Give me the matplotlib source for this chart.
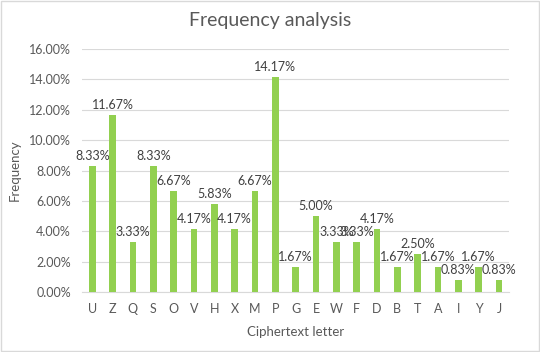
import matplotlib
matplotlib.use("Agg")
import matplotlib.pyplot as plt
from matplotlib.ticker import FuncFormatter

plt.rcParams['font.family'] = ['Lato', 'DejaVu Sans']

letters = ['U', 'Z', 'Q', 'S', 'O', 'V', 'H', 'X', 'M', 'P', 'G',
           'E', 'W', 'F', 'D', 'B', 'T', 'A', 'I', 'Y', 'J']
freq = [8.33, 11.67, 3.33, 8.33, 6.67, 4.17, 5.83, 4.17, 6.67, 14.17, 1.67,
        5.00, 3.33, 3.33, 4.17, 1.67, 2.50, 1.67, 0.83, 1.67, 0.83]

fig = plt.figure(figsize=(5.4, 3.52), dpi=100)
ax = fig.add_axes([0.152, 0.170, 0.791, 0.691])

x = range(len(letters))
ax.bar(x, freq, width=0.33, color='#92D050', zorder=3)
for i, v in zip(x, freq):
    ax.text(i, v + 0.25, f"{v:.2f}%", ha='center', va='bottom',
            fontsize=9, color='#404040', zorder=4)

ax.set_xlim(-0.5, len(letters) - 0.5)
ax.set_ylim(0, 16)
ax.set_yticks(range(0, 17, 2))
ax.yaxis.set_major_formatter(FuncFormatter(lambda v, p: f"{v:.2f}%"))
ax.set_xticks(list(x))
ax.set_xticklabels(letters)
ax.grid(axis='y', color='#D9D9D9', linewidth=0.8, zorder=0)

for s in ['top', 'right', 'left']:
    ax.spines[s].set_visible(False)
ax.spines['bottom'].set_color('#D9D9D9')
ax.tick_params(axis='both', length=0, labelsize=9, colors='#595959')
ax.tick_params(axis='x', pad=8)
ax.tick_params(axis='y', pad=8)

ax.set_ylabel('Frequency', fontsize=9.5, color='#595959', labelpad=6)
ax.set_xlabel('Ciphertext letter', fontsize=9.5, color='#595959', labelpad=8)
fig.suptitle('Frequency analysis', fontsize=14, color='#595959', y=0.965)

fig.patches.append(plt.Rectangle((0.001, 0.002), 0.997, 0.995, transform=fig.transFigure,
                                 fill=False, edgecolor='#D9D9D9', linewidth=1))

fig.savefig('out.png', dpi=100)
